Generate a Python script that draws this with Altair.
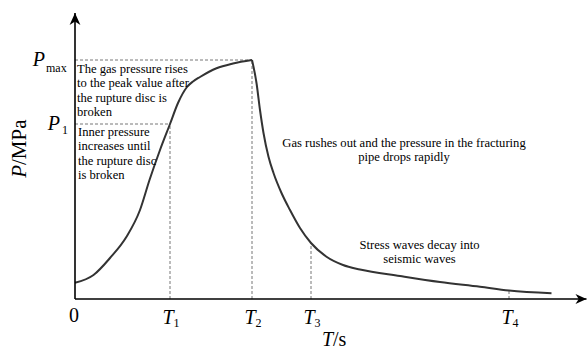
import altair as alt
import pandas as pd

# ---- values (time in s, pressure in MPa, arbitrary units) ----
rise_t = [0.00, 0.37, 0.70, 1.03, 1.30, 1.49, 1.70, 1.90, 2.06, 2.24, 2.36, 2.50, 2.83, 3.16, 3.54]
rise_p = [0.65, 0.96, 1.64, 2.49, 3.56, 4.76, 5.96, 7.00, 7.84, 8.48, 8.70, 8.88, 9.23, 9.42, 9.56]
fall_t = [3.54, 3.63, 3.70, 3.77, 3.87, 3.97, 4.13, 4.30, 4.50, 4.72, 5.03, 5.36, 5.70, 6.50,
          7.30, 8.10, 8.68, 9.53]
fall_p = [9.56, 8.64, 7.56, 6.64, 5.69, 5.04, 4.24, 3.56, 2.84, 2.24, 1.69, 1.36, 1.18, 0.92,
          0.68, 0.49, 0.34, 0.23]

tick_names = ["T", "T", "T", "T"]
tick_subs = ["1", "2", "3", "4"]
tick_t = [1.90, 3.54, 4.72, 8.68]
tick_p = [7.00, 9.56, 2.24, 0.34]          # curve level reached at each marked time

level_names = ["P", "P"]
level_subs = ["max", "1"]
level_p = [9.56, 7.00]
level_t = [3.54, 1.90]

T_END = 10.23
P_END = 11.44

annotations = [
    "The gas pressure rises\nto the peak value after\nthe rupture disc is\nbroken",
    "Inner pressure\nincreases until\nthe rupture disc\nis broken",
    "Gas rushes out and the pressure in the fracturing\npipe drops rapidly",
    "Stress waves decay into\nseismic waves",
]
ann_t = [0.04, 0.06, 6.58, 6.89]
ann_p = [9.46, 6.94, 6.50, 2.42]
ann_align = ["left", "left", "center", "center"]

FONT = "Liberation Serif"
W, H = 512, 286
xs = alt.Scale(domain=[0, 10.24], nice=False, zero=False)
ys = alt.Scale(domain=[0, P_END], nice=False, zero=False)


def X(f="t"):
    return alt.X(f"{f}:Q", scale=xs, axis=None)


def Y(f="p"):
    return alt.Y(f"{f}:Q", scale=ys, axis=None)


curve_df = pd.DataFrame({
    "t": rise_t + fall_t,
    "p": rise_p + fall_p,
    "seg": ["rise"] * len(rise_t) + ["fall"] * len(fall_t),
})
curve = alt.Chart(curve_df).mark_line(
    interpolate="monotone", color="#333333", strokeWidth=2
).encode(x=X(), y=Y(), detail="seg:N")

guide_rows = [
    dict(t=0, t2=level_t[0], p=level_p[0], p2=level_p[0]),
    dict(t=0, t2=level_t[1], p=level_p[1], p2=level_p[1]),
] + [dict(t=a, t2=a, p=0, p2=b) for a, b in zip(tick_t, tick_p)]
guides = alt.Chart(pd.DataFrame(guide_rows)).mark_rule(
    color="#777777", strokeWidth=1, strokeDash=[3, 2]
).encode(x=X(), x2="t2:Q", y=Y(), y2="p2:Q")

axes_df = pd.DataFrame([
    dict(t=0, t2=T_END, p=0, p2=0),
    dict(t=0, t2=0, p=0, p2=P_END),
])
axes = alt.Chart(axes_df).mark_rule(color="black", strokeWidth=1.6).encode(
    x=X(), x2="t2:Q", y=Y(), y2="p2:Q")

up_arrow = alt.Chart(pd.DataFrame({"t": [0], "p": [P_END]})).mark_point(
    shape="M0,0L0.5,1.1L0,0.78L-0.5,1.1Z", filled=True, size=470, color="black",
    opacity=1, strokeWidth=0
).encode(x=X(), y=Y())
right_arrow = alt.Chart(pd.DataFrame({"t": [T_END], "p": [0]})).mark_point(
    shape="M0,0L-1.1,-0.5L-0.78,0L-1.1,0.5Z", filled=True, size=400, color="black",
    opacity=1, strokeWidth=0
).encode(x=X(), y=Y())

tick_df = pd.DataFrame({"t": tick_t, "name": tick_names, "sub": tick_subs, "p": 0})
tick_main = alt.Chart(tick_df).mark_text(
    font=FONT, fontSize=20, fontStyle="italic", color="black",
    align="center", baseline="middle", dx=-2, dy=18.5
).encode(x=X(), y=Y(), text="name:N")
tick_sub = alt.Chart(tick_df).mark_text(
    font=FONT, fontSize=12, color="black",
    align="center", baseline="middle", dx=6.5, dy=24
).encode(x=X(), y=Y(), text="sub:N")
zero_lbl = alt.Chart(pd.DataFrame({"t": [0], "p": [0], "s": ["0"]})).mark_text(
    font=FONT, fontSize=20, color="black", align="center", baseline="middle", dx=-1, dy=17
).encode(x=X(), y=Y(), text="s:N")

lvl_layers = []
lvl_dx_main = [-30, -15]
lvl_dx_sub = [-29, -13]
lvl_dy_sub = [7.5, 5.5]
for i in range(len(level_p)):
    d = pd.DataFrame({"t": [0], "p": [level_p[i]], "n": [level_names[i]], "s": [level_subs[i]]})
    lvl_layers.append(alt.Chart(d).mark_text(
        font=FONT, fontSize=20, fontStyle="italic", color="black",
        align="right", baseline="middle", dx=lvl_dx_main[i], dy=0
    ).encode(x=X(), y=Y(), text="n:N"))
    lvl_layers.append(alt.Chart(d).mark_text(
        font=FONT, fontSize=12, color="black",
        align="left", baseline="middle", dx=lvl_dx_sub[i], dy=lvl_dy_sub[i]
    ).encode(x=X(), y=Y(), text="s:N"))

ann_layers = []
for i in range(len(annotations)):
    d = pd.DataFrame({"t": [ann_t[i]], "p": [ann_p[i]], "s": [annotations[i]]})
    ann_layers.append(alt.Chart(d).mark_text(
        font=FONT, fontSize=12.6, color="black", align=ann_align[i], baseline="top",
        lineBreak="\n", lineHeight=14.5
    ).encode(x=X(), y=Y(), text="s:N"))

one = pd.DataFrame({"a": [0]})
xt_main = alt.Chart(one).mark_text(
    font=FONT, fontSize=20, fontStyle="italic", color="black", align="right", baseline="middle"
).encode(x=alt.value(258), y=alt.value(327), text=alt.value("T"))
xt_rest = alt.Chart(one).mark_text(
    font=FONT, fontSize=20, color="black", align="left", baseline="middle"
).encode(x=alt.value(258), y=alt.value(327), text=alt.value("/s"))
yt_main = alt.Chart(one).mark_text(
    font=FONT, fontSize=21, fontStyle="italic", color="black", align="right",
    baseline="middle", angle=270
).encode(x=alt.value(-55), y=alt.value(152), text=alt.value("P"))
yt_rest = alt.Chart(one).mark_text(
    font=FONT, fontSize=21, color="black", align="left", baseline="middle", angle=270
).encode(x=alt.value(-55), y=alt.value(152), text=alt.value("/MPa"))

chart = alt.layer(
    guides, curve, axes, up_arrow, right_arrow, tick_main, tick_sub, zero_lbl,
    *lvl_layers, *ann_layers, xt_main, xt_rest, yt_main, yt_rest
).properties(
    width=W, height=H,
    autosize=alt.AutoSizeParams(type="none"),
    padding={"left": 75, "top": 13, "right": 0, "bottom": 52},
    background="white",
).configure_view(strokeWidth=0)

chart.save("out.html", embed_options={"renderer": "svg", "actions": False})
